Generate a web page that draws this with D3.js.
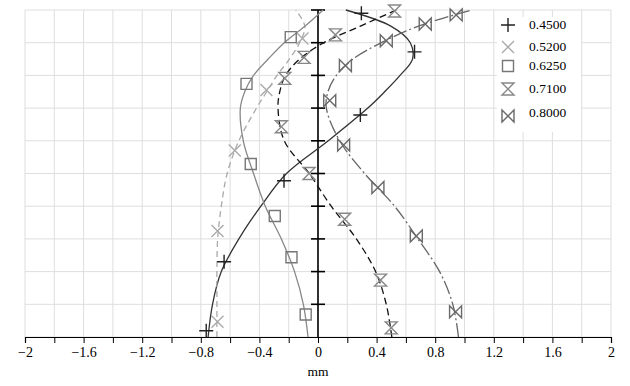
<!DOCTYPE html>
<html>
<head>
<meta charset="utf-8">
<script src="https://cdn.jsdelivr.net/npm/d3@7"></script>
<style>
  body { margin: 0; background: #fff; }
  svg text { font-family: "Liberation Serif", "Times New Roman", serif; }
</style>
</head>
<body>
<svg id="chart"></svg>
<script>
const heights = [0, 0.1, 0.2, 0.3, 0.4, 0.5, 0.6, 0.7, 0.75, 0.8, 0.85, 0.9, 0.95, 1.0];

// deflection (mm) of each curve at those heights
const curve045 = [-0.75, -0.72, -0.66, -0.54, -0.39, -0.215, 0.07, 0.34, 0.455, 0.56, 0.645, 0.63, 0.50, 0.19];
const curve052 = [-0.69, -0.69, -0.69, -0.685, -0.66, -0.62, -0.54, -0.42, -0.35, -0.28, -0.195, -0.125, -0.09, -0.152];
const curve0625 = [-0.068, -0.10, -0.16, -0.25, -0.36, -0.44, -0.51, -0.53, -0.50, -0.44, -0.34, -0.23, -0.09, 0.035];
const curve071 = [0.504, 0.466, 0.393, 0.262, 0.09, -0.06, -0.23, -0.273, -0.261, -0.222, -0.125, 0.039, 0.286, 0.534];
const curve080 = [0.959, 0.92, 0.83, 0.682, 0.523, 0.318, 0.148, 0.057, 0.068, 0.125, 0.239, 0.432, 0.682, 1.05];

// measured points [mm, height]
const points045 = [[-0.763, 0.019], [-0.641, 0.23], [-0.232, 0.478], [0.289, 0.679], [0.659, 0.872], [0.296, 0.99]];
const points052 = [[-0.686, 0.047], [-0.686, 0.324], [-0.568, 0.57], [-0.352, 0.755], [-0.106, 0.913]];
const points0625 = [[-0.084, 0.069], [-0.181, 0.244], [-0.295, 0.37], [-0.459, 0.529], [-0.488, 0.774], [-0.186, 0.917]];
const points071 = [[0.5, 0.028], [0.427, 0.174], [0.182, 0.36], [-0.061, 0.5], [-0.25, 0.643], [-0.227, 0.791], [-0.095, 0.855], [0.119, 0.924], [0.523, 0.997]];
const points080 = [[0.939, 0.077], [0.671, 0.309], [0.409, 0.457], [0.175, 0.587], [0.08, 0.723], [0.187, 0.83], [0.466, 0.906], [0.732, 0.957], [0.943, 0.985]];

const seriesNames = ['0.4500', '0.5200', '0.6250', '0.7100', '0.8000'];
const xLabel = 'mm';

const width = 630, height = 386;
const x = d3.scaleLinear().domain([-2, 2]).range([25, 611]);
const y = d3.scaleLinear().domain([0, 1]).range([337, 10]);

const svg = d3.select('#chart')
  .attr('width', width)
  .attr('height', height)
  .attr('viewBox', [0, 0, width, height]);

const xTicks = d3.range(-10, 11).map((i) => i / 5);
const yTicks = d3.range(0, 11).map((i) => i / 10);

// grid
svg.append('g').selectAll('line')
  .data(xTicks)
  .join('line')
  .attr('x1', (d) => x(d)).attr('x2', (d) => x(d))
  .attr('y1', y(1)).attr('y2', y(0))
  .attr('stroke', '#dedede');
svg.append('g').selectAll('line')
  .data(yTicks)
  .join('line')
  .attr('x1', x(-2)).attr('x2', x(2))
  .attr('y1', (d) => y(d)).attr('y2', (d) => y(d))
  .attr('stroke', '#dedede');

// x axis
const xAxis = svg.append('g')
  .attr('transform', `translate(0,${y(0)})`)
  .call(d3.axisBottom(x).tickValues(xTicks).tickSizeOuter(0).tickSize(6).tickPadding(4)
    .tickFormat((d, i) => (i % 2 === 0 ? d3.format('~g')(d) : '')));
xAxis.attr('font-family', '"Liberation Serif", serif').attr('font-size', 14);
xAxis.select('.domain').attr('stroke', '#000').attr('stroke-width', 1.2);
xAxis.selectAll('.tick line').attr('stroke', '#000');
xAxis.selectAll('.tick text').attr('fill', '#000');

svg.append('text')
  .attr('x', x(0)).attr('y', 376)
  .attr('text-anchor', 'middle')
  .attr('font-size', 13.5)
  .text(xLabel);

// centre (height) axis
svg.append('line')
  .attr('x1', x(0)).attr('x2', x(0))
  .attr('y1', y(1)).attr('y2', y(0))
  .attr('stroke', '#000').attr('stroke-width', 1.6);
svg.append('g').selectAll('line')
  .data(yTicks.slice(1))
  .join('line')
  .attr('x1', x(0) - 7).attr('x2', x(0) + 7)
  .attr('y1', (d) => y(d)).attr('y2', (d) => y(d))
  .attr('stroke', '#000').attr('stroke-width', 1.6);

// markers
const S = 6;
const markerPaths = {
  plus: `M${-S - 1},0H${S + 1}M0,${-S - 1}V${S + 1}`,
  cross: `M${-S},${-S}L${S},${S}M${-S},${S}L${S},${-S}`,
  square: `M${-S + 0.5},${-S + 0.5}H${S - 0.5}V${S - 0.5}H${-S + 0.5}Z`,
  hourglass: `M${-S},${-S}H${S}L${-S},${S}H${S}Z`,
  bowtie: `M${-S},${-S}L${S},${S}V${-S}L${-S},${S}Z`,
};

const series = [
  { name: seriesNames[0], curve: curve045, points: points045, line: '#333', dash: null, mark: 'plus', mcol: '#222' },
  { name: seriesNames[1], curve: curve052, points: points052, line: '#aaa', dash: '6,4', mark: 'cross', mcol: '#aaa' },
  { name: seriesNames[2], curve: curve0625, points: points0625, line: '#888', dash: null, mark: 'square', mcol: '#777' },
  { name: seriesNames[3], curve: curve071, points: points071, line: '#111', dash: '7,4', mark: 'hourglass', mcol: '#888' },
  { name: seriesNames[4], curve: curve080, points: points080, line: '#666', dash: '14,3,2,3', mark: 'bowtie', mcol: '#6a6a6a' },
];

const line = d3.line()
  .x((d) => x(d[0]))
  .y((d) => y(d[1]))
  .curve(d3.curveCatmullRom.alpha(0.5));

series.forEach((s) => {
  svg.append('path')
    .datum(s.curve.map((v, i) => [v, heights[i]]))
    .attr('d', line)
    .attr('fill', 'none')
    .attr('stroke', s.line)
    .attr('stroke-width', 1.3)
    .attr('stroke-dasharray', s.dash);
});

series.forEach((s) => {
  svg.append('g').selectAll('path')
    .data(s.points)
    .join('path')
    .attr('transform', (d) => `translate(${x(d[0])},${y(d[1])})`)
    .attr('d', markerPaths[s.mark])
    .attr('fill', 'none')
    .attr('stroke', s.mcol)
    .attr('stroke-width', 1.4);
});

// legend
svg.append('rect')
  .attr('x', 497).attr('y', 17).attr('width', 84).attr('height', 115)
  .attr('fill', '#fff');
const legendY = [25, 47, 66, 89, 116];
series.forEach((s, i) => {
  svg.append('path')
    .attr('transform', `translate(508,${legendY[i]})`)
    .attr('d', markerPaths[s.mark])
    .attr('fill', 'none')
    .attr('stroke', s.mcol)
    .attr('stroke-width', 1.4);
  svg.append('text')
    .attr('x', 529).attr('y', legendY[i] + (i === 4 ? -2 : 1))
    .attr('dominant-baseline', 'middle')
    .attr('font-size', 13.5)
    .text(s.name);
});
</script>
</body>
</html>
